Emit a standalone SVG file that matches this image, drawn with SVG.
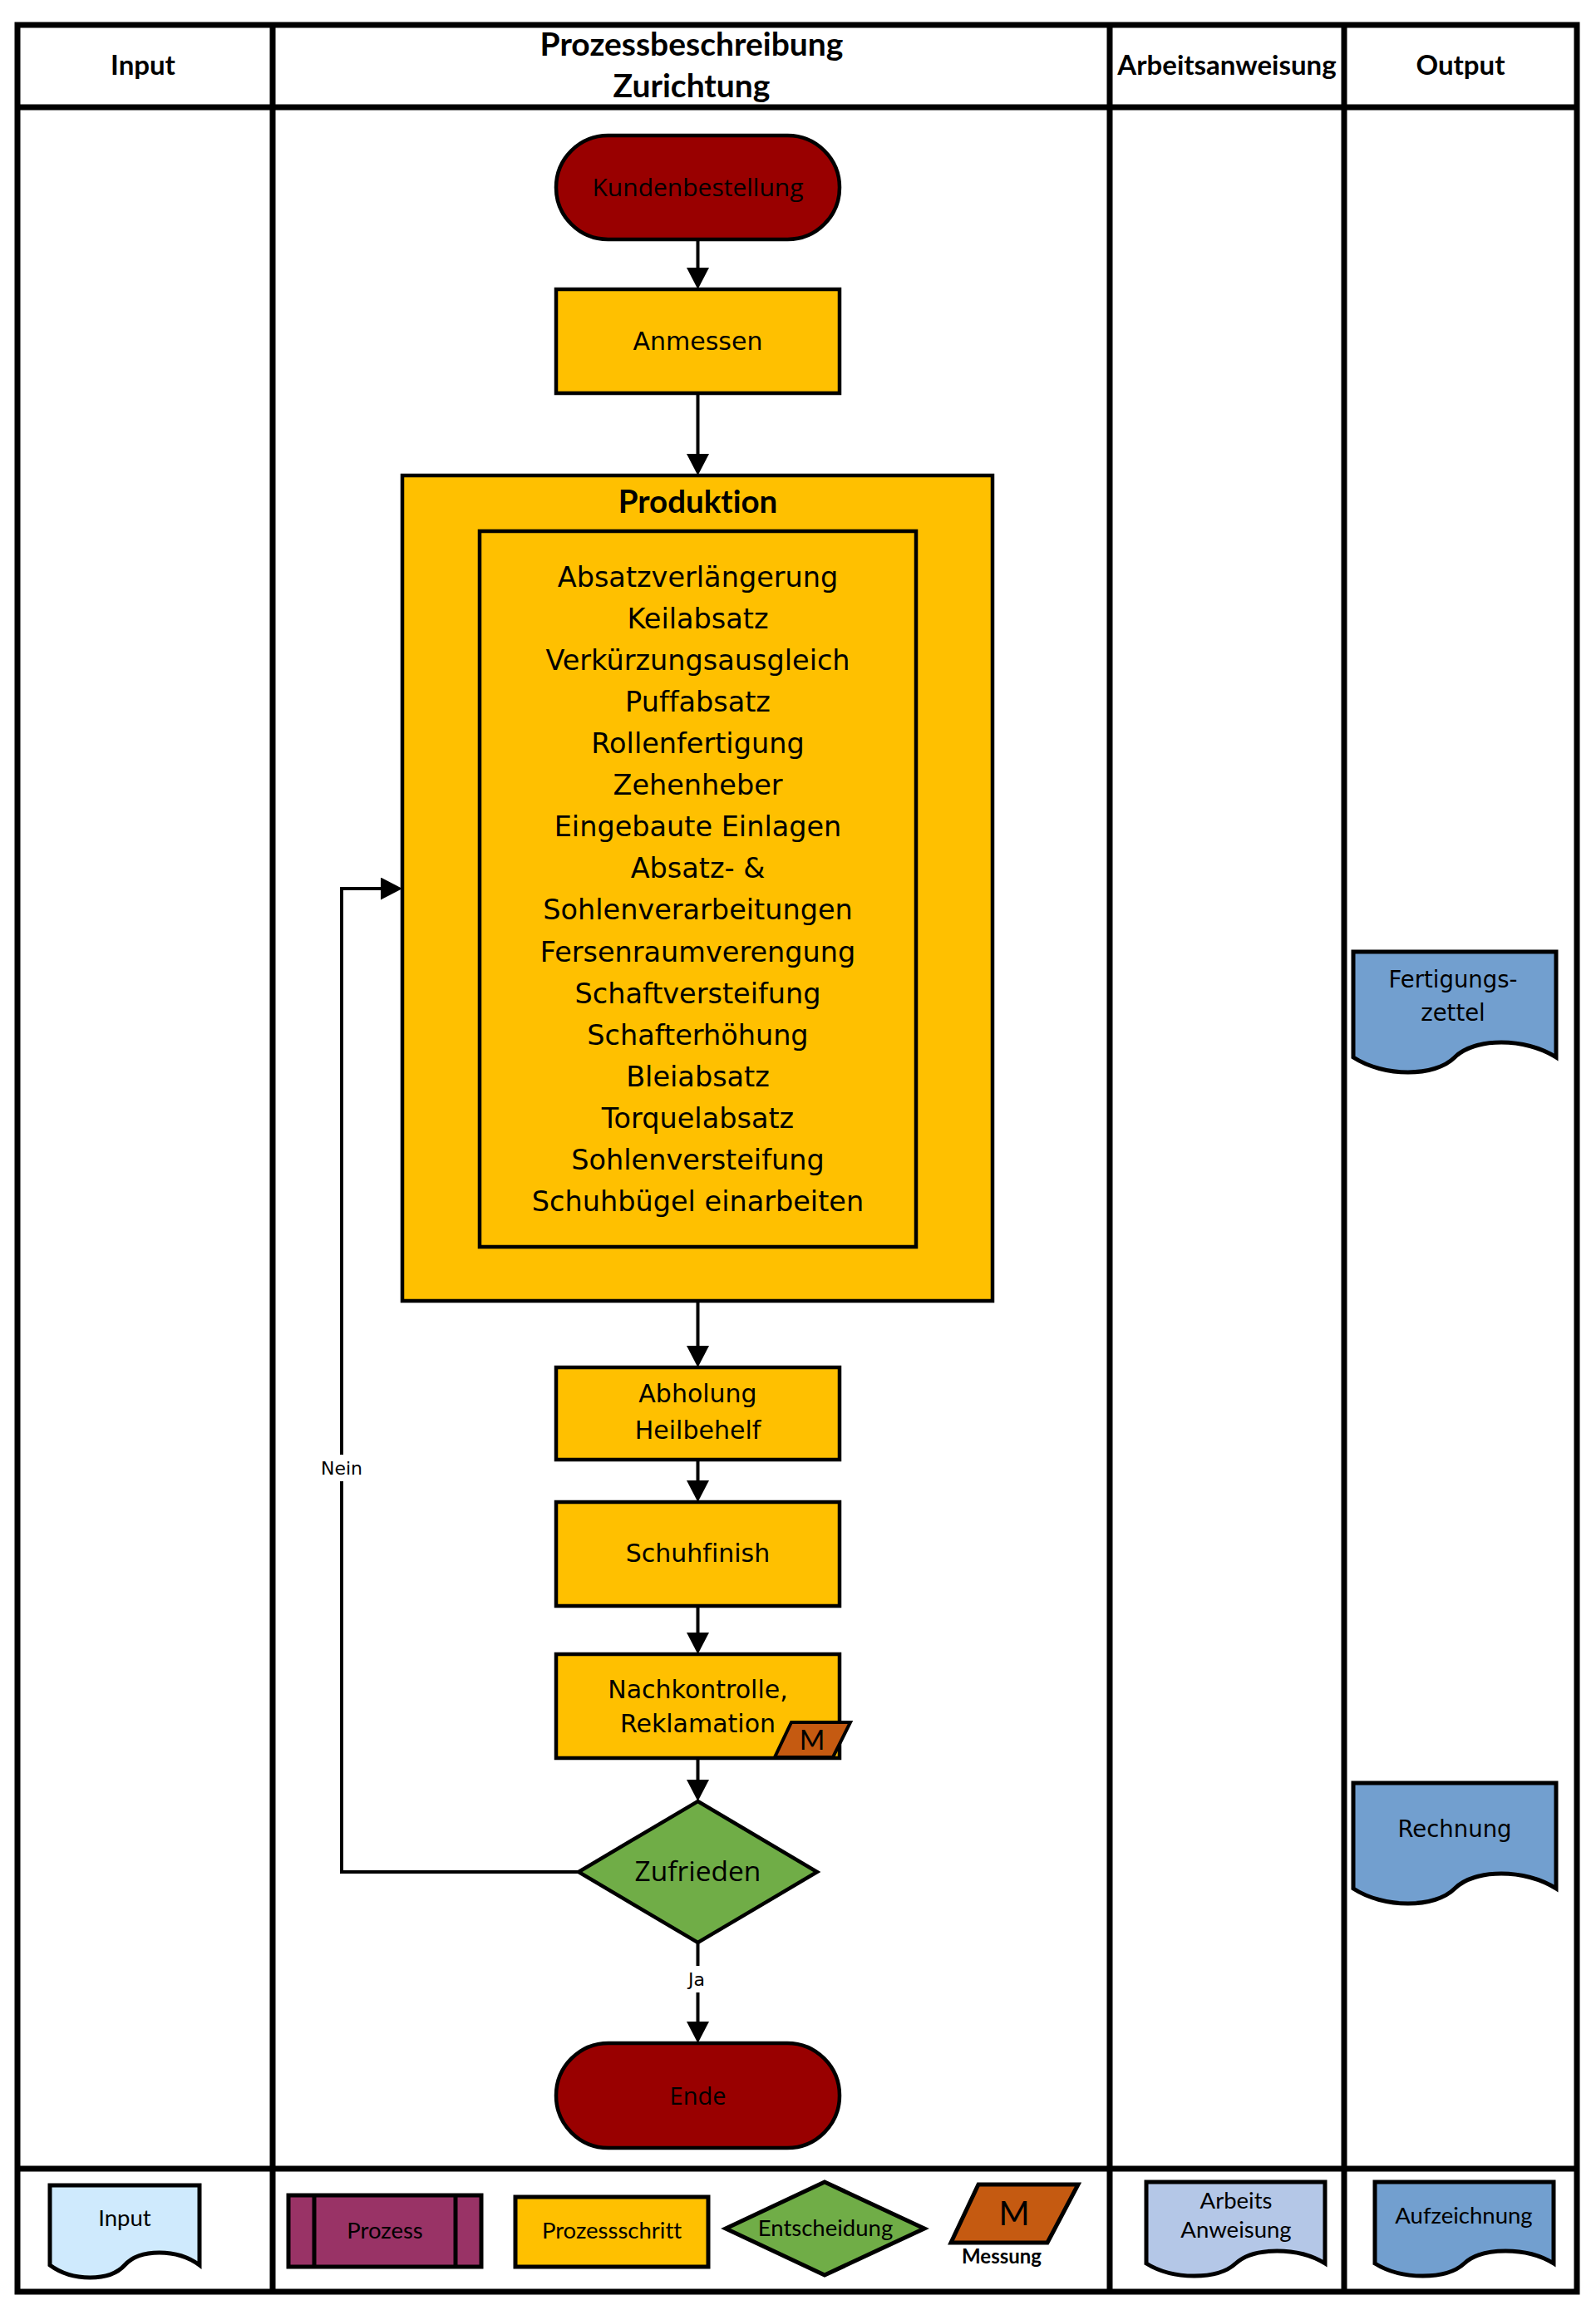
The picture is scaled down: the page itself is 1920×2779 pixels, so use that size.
<svg xmlns="http://www.w3.org/2000/svg" width="1920" height="2779" viewBox="0 0 1920 2779">
<style>
text{font-variant-ligatures:none}
.frame{fill:none;stroke:#000;stroke-width:7}
.step{fill:#ffc000;stroke:#000;stroke-width:4.5}
.term{fill:#990000;stroke:#000;stroke-width:4.5}
.dec{fill:#70ad47;stroke:#000;stroke-width:4.5}
.meas{fill:#c55a11;stroke:#000;stroke-width:4}
.doc{stroke:#000;stroke-width:5}
.conn{fill:none;stroke:#000;stroke-width:4}
.hdr{font-family:Lato,"Liberation Sans",sans-serif;font-weight:bold;font-size:33px;text-anchor:middle;fill:#000}
.tah{font-family:"DejaVu Sans",sans-serif;font-size:30px;text-anchor:middle;fill:#000}
.list{font-family:"DejaVu Sans",sans-serif;font-size:33.5px;text-anchor:middle;fill:#000}
.seg{font-family:"Open Sans",sans-serif;text-anchor:middle;fill:#000}
.leg{font-family:Lato,"Liberation Sans",sans-serif;font-size:27.5px;text-anchor:middle;fill:#000}
.lbl{font-family:"DejaVu Sans",sans-serif;font-size:22px;text-anchor:middle;fill:#000}
.doct{font-family:"DejaVu Sans",sans-serif;font-size:27.5px;text-anchor:middle;fill:#000}
</style>
<defs>
<marker id="arr" markerUnits="userSpaceOnUse" markerWidth="27" markerHeight="27" refX="18" refY="13.5" orient="auto">
<path d="M0,0 L26,13.5 L0,27 Z" fill="#000"/>
</marker>
</defs>
<rect width="1920" height="2779" fill="#fff"/>

<g id="table">
<rect class="frame" x="21" y="30" width="1876" height="2727"/>
<line class="frame" x1="21" y1="129" x2="1897" y2="129"/>
<line class="frame" x1="21" y1="2609" x2="1897" y2="2609"/>
<line class="frame" x1="328" y1="30" x2="328" y2="2757"/>
<line class="frame" x1="1335" y1="30" x2="1335" y2="2757"/>
<line class="frame" x1="1617" y1="30" x2="1617" y2="2757"/>
<text class="hdr" x="172" y="90">Input</text>
<text class="hdr" x="832" y="67" style="font-size:39px">Prozessbeschreibung</text>
<text class="hdr" x="832" y="117" style="font-size:39px">Zurichtung</text>
<text class="hdr" x="1476" y="90">Arbeitsanweisung</text>
<text class="hdr" x="1757" y="90">Output</text>
</g>

<g id="connectors">
<line class="conn" x1="839.5" y1="288" x2="839.5" y2="340" marker-end="url(#arr)"/>
<line class="conn" x1="839.5" y1="473" x2="839.5" y2="564" marker-end="url(#arr)"/>
<line class="conn" x1="839.5" y1="1565" x2="839.5" y2="1637" marker-end="url(#arr)"/>
<line class="conn" x1="839.5" y1="1756" x2="839.5" y2="1799" marker-end="url(#arr)"/>
<line class="conn" x1="839.5" y1="1932" x2="839.5" y2="1982" marker-end="url(#arr)"/>
<line class="conn" x1="839.5" y1="2115" x2="839.5" y2="2159" marker-end="url(#arr)"/>
<line class="conn" x1="839.5" y1="2337" x2="839.5" y2="2450" marker-end="url(#arr)"/>
<polyline class="conn" points="696,2252 411,2252 411,1069 476,1069" marker-end="url(#arr)"/>
<rect x="384" y="1750" width="54" height="32" fill="#fff"/>
<text class="lbl" x="411" y="1774">Nein</text>
<rect x="824" y="2365" width="31" height="32" fill="#fff"/>
<text class="lbl" x="838" y="2389">Ja</text>
</g>

<g id="kundenbestellung">
<rect class="term" x="669" y="163" width="341" height="125" rx="62.5"/>
<text class="seg" x="839.5" y="236" style="font-size:30px">Kundenbestellung</text>
</g>

<g id="anmessen">
<rect class="step" x="669" y="348" width="341" height="125"/>
<text class="tah" x="839.5" y="421">Anmessen</text>
</g>

<g id="produktion">
<rect class="step" x="484" y="572" width="710" height="993"/>
<text x="839.5" y="617" style="font-family:Lato,'Liberation Sans',sans-serif;font-weight:bold;font-size:38.5px;text-anchor:middle">Produktion</text>
<rect class="step" x="577" y="639" width="525" height="861"/>
<text class="list" x="839.5" y="706">Absatzverlängerung</text>
<text class="list" x="839.5" y="756">Keilabsatz</text>
<text class="list" x="839.5" y="806">Verkürzungsausgleich</text>
<text class="list" x="839.5" y="856">Puffabsatz</text>
<text class="list" x="839.5" y="906">Rollenfertigung</text>
<text class="list" x="839.5" y="956">Zehenheber</text>
<text class="list" x="839.5" y="1006">Eingebaute Einlagen</text>
<text class="list" x="839.5" y="1056">Absatz- &amp;</text>
<text class="list" x="839.5" y="1106">Sohlenverarbeitungen</text>
<text class="list" x="839.5" y="1157">Fersenraumverengung</text>
<text class="list" x="839.5" y="1207">Schaftversteifung</text>
<text class="list" x="839.5" y="1257">Schafterhöhung</text>
<text class="list" x="839.5" y="1307">Bleiabsatz</text>
<text class="list" x="839.5" y="1357">Torquelabsatz</text>
<text class="list" x="839.5" y="1407">Sohlenversteifung</text>
<text class="list" x="839.5" y="1457">Schuhbügel einarbeiten</text>
</g>

<g id="abholung">
<rect class="step" x="669" y="1645" width="341" height="111"/>
<text class="tah" x="839.5" y="1687">Abholung</text>
<text class="tah" x="839.5" y="1731">Heilbehelf</text>
</g>

<g id="schuhfinish">
<rect class="step" x="669" y="1807" width="341" height="125"/>
<text class="tah" x="839.5" y="1879">Schuhfinish</text>
</g>

<g id="nachkontrolle">
<rect class="step" x="669" y="1990" width="341" height="125"/>
<text class="tah" x="839.5" y="2043">Nachkontrolle,</text>
<text class="tah" x="839.5" y="2084">Reklamation</text>
<polygon class="meas" points="952,2072 1023,2072 1002,2114 932,2114"/>
<text x="977" y="2105" style="font-family:Lato,'Liberation Sans',sans-serif;font-size:33px;text-anchor:middle">M</text>
</g>

<g id="zufrieden">
<polygon class="dec" points="839.5,2167 983,2252 839.5,2337 696,2252"/>
<text class="seg" x="839.5" y="2263" style="font-size:33.5px">Zufrieden</text>
</g>

<g id="ende">
<rect class="term" x="669" y="2458" width="341" height="126" rx="63"/>
<text class="seg" x="839.5" y="2532" style="font-size:29px">Ende</text>
</g>

<g id="fertigungszettel">
<path class="doc" fill="#729fcf" d="M1628,1145 H1872 V1272 C1835,1248 1774,1248 1750,1272 C1726,1296 1665,1296 1628,1272 Z"/>
<text class="doct" x="1748" y="1188">Fertigungs-</text>
<text class="doct" x="1748" y="1228">zettel</text>
</g>

<g id="rechnung">
<path class="doc" fill="#729fcf" d="M1628,2145 H1872 V2272 C1835,2248 1774,2248 1750,2272 C1726,2296 1665,2296 1628,2272 Z"/>
<text class="doct" x="1750" y="2210">Rechnung</text>
</g>

<g id="legend-input">
<path class="doc" fill="#cfeafd" d="M60,2629 H240 V2725 C213,2705 168,2705 150,2725 C132,2745 87,2745 60,2725 Z"/>
<text class="leg" x="150" y="2678">Input</text>
</g>
<g id="legend-prozess">
<rect class="doc" fill="#993366" x="347" y="2641" width="232" height="86"/>
<line class="doc" x1="378" y1="2641" x2="378" y2="2727"/>
<line class="doc" x1="548" y1="2641" x2="548" y2="2727"/>
<text class="leg" x="463" y="2693">Prozess</text>
</g>
<g id="legend-prozessschritt">
<rect class="doc" fill="#ffc000" x="620" y="2643" width="232" height="84"/>
<text class="leg" x="736" y="2693">Prozessschritt</text>
</g>
<g id="legend-entscheidung">
<polygon class="doc" fill="#70ad47" points="992,2625 1112,2681 992,2737 873,2681"/>
<text class="leg" x="993" y="2690">Entscheidung</text>
</g>
<g id="legend-messung">
<polygon class="doc" fill="#c55a11" points="1177,2628 1297,2628 1260,2698 1144,2698"/>
<text class="leg" x="1220" y="2677" style="font-size:40px">M</text>
<text class="leg" x="1205" y="2723" style="font-size:24px;font-weight:bold">Messung</text>
</g>
<g id="legend-arbeitsanweisung">
<path class="doc" fill="#b4c7e7" d="M1379,2625 H1594 V2723 C1562,2703 1508,2703 1486.5,2723 C1465,2743 1411,2743 1379,2723 Z"/>
<text class="leg" x="1487" y="2657">Arbeits</text>
<text class="leg" x="1487" y="2692">Anweisung</text>
</g>
<g id="legend-aufzeichnung">
<path class="doc" fill="#729fcf" d="M1654,2625 H1869 V2723 C1837,2703 1783,2703 1761.5,2723 C1740,2743 1686,2743 1654,2723 Z"/>
<text class="leg" x="1761" y="2675">Aufzeichnung</text>
</g>
</svg>
